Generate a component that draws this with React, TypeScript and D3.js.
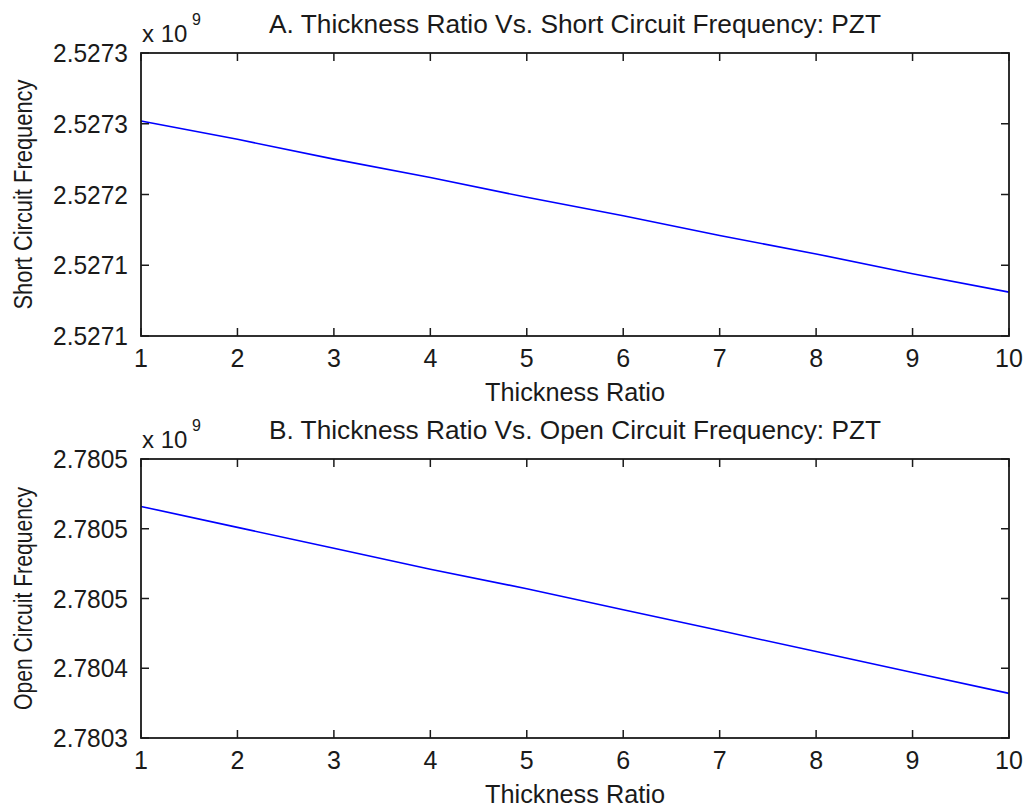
import React from 'react';
import * as d3 from 'd3';

// values, frequencies in units of 1e9 Hz
const thicknessRatio = [1, 2, 3, 4, 5, 6, 7, 8, 9, 10];
const shortCircuitFreq = [2.527252, 2.527239, 2.527225, 2.527212, 2.527198, 2.527185, 2.527171, 2.527158, 2.527144, 2.527131];
const openCircuitFreq = [2.780516, 2.780501, 2.780486, 2.780471, 2.780457, 2.780442, 2.780427, 2.780412, 2.780397, 2.780382];

const shortTicks = [2.5271, 2.52715, 2.5272, 2.52725, 2.5273];
const shortTickLabels = ['2.5271', '2.5271', '2.5272', '2.5273', '2.5273'];
const openTicks = [2.78035, 2.7804, 2.78045, 2.7805, 2.78055];
const openTickLabels = ['2.7803', '2.7804', '2.7805', '2.7805', '2.7805'];
const xTicks = [1, 2, 3, 4, 5, 6, 7, 8, 9, 10];

const FONT = '"Liberation Sans", Arial, sans-serif';
const INK = '#1a1a1a';

type PanelProps = {
  top: number;
  bottom: number;
  values: number[];
  ticks: number[];
  tickLabels: string[];
  title: string;
  ylabel: string;
  ylabelLen: number;
};

const left = 141;
const right = 1009;

function Panel(props: PanelProps) {
  const { top, bottom, values, ticks, tickLabels, title, ylabel, ylabelLen } = props;
  const x = d3.scaleLinear().domain([1, 10]).range([left, right]);
  const y = d3.scaleLinear().domain([ticks[0], ticks[ticks.length - 1]]).range([bottom, top]);
  const line = d3.line<number>()
    .x((d, i) => x(thicknessRatio[i]))
    .y(d => y(d));
  const tl = 8;
  const cx = (left + right) / 2;
  const cy = (top + bottom) / 2;

  return (
    <g>
      <path d={line(values) || ''} fill="none" stroke="#0000ff" strokeWidth={1.6} />
      <rect x={left} y={top} width={right - left} height={bottom - top} fill="none" stroke={INK} strokeWidth={1.8} />
      {xTicks.map(t => (
        <g key={'x' + t}>
          <line x1={x(t)} x2={x(t)} y1={bottom} y2={bottom - tl} stroke={INK} strokeWidth={1.5} />
          <line x1={x(t)} x2={x(t)} y1={top} y2={top + tl} stroke={INK} strokeWidth={1.5} />
          <text x={x(t)} y={bottom + 31} textAnchor="middle" fontSize={25} fill={INK}>{t}</text>
        </g>
      ))}
      {ticks.map((t, i) => (
        <g key={'y' + i}>
          <line x1={left} x2={left + tl} y1={y(t)} y2={y(t)} stroke={INK} strokeWidth={1.5} />
          <line x1={right} x2={right - tl} y1={y(t)} y2={y(t)} stroke={INK} strokeWidth={1.5} />
          <text x={128} y={y(t) + 9} textAnchor="end" fontSize={25} fill={INK}
            textLength={75} lengthAdjust="spacingAndGlyphs">{tickLabels[i]}</text>
        </g>
      ))}
      <text x={cx} y={top - 20} textAnchor="middle" fontSize={25} fill={INK}
        textLength={612} lengthAdjust="spacingAndGlyphs">{title}</text>
      <text x={142} y={top - 11} fontSize={24} fill={INK}>x 10</text>
      <text x={192} y={top - 28} fontSize={16} fill={INK}>9</text>
      <text x={cx} y={bottom + 65} textAnchor="middle" fontSize={25} fill={INK}
        textLength={180} lengthAdjust="spacingAndGlyphs">Thickness Ratio</text>
      <text transform={`translate(32,${cy}) rotate(-90)`} textAnchor="middle" fontSize={25} fill={INK}
        textLength={ylabelLen} lengthAdjust="spacingAndGlyphs">{ylabel}</text>
    </g>
  );
}

export default function App() {
  return (
    <svg width={1026} height={811} style={{ position: 'absolute', left: 0, top: 0, background: '#fff' }}
      fontFamily={FONT}>
      <rect width={1026} height={811} fill="#fff" />
      <Panel top={53} bottom={336} values={shortCircuitFreq} ticks={shortTicks} tickLabels={shortTickLabels}
        title="A. Thickness Ratio Vs. Short Circuit Frequency: PZT" ylabel="Short Circuit Frequency" ylabelLen={230} />
      <Panel top={459} bottom={738} values={openCircuitFreq} ticks={openTicks} tickLabels={openTickLabels}
        title="B. Thickness Ratio Vs. Open Circuit Frequency: PZT" ylabel="Open Circuit Frequency" ylabelLen={223} />
    </svg>
  );
}
